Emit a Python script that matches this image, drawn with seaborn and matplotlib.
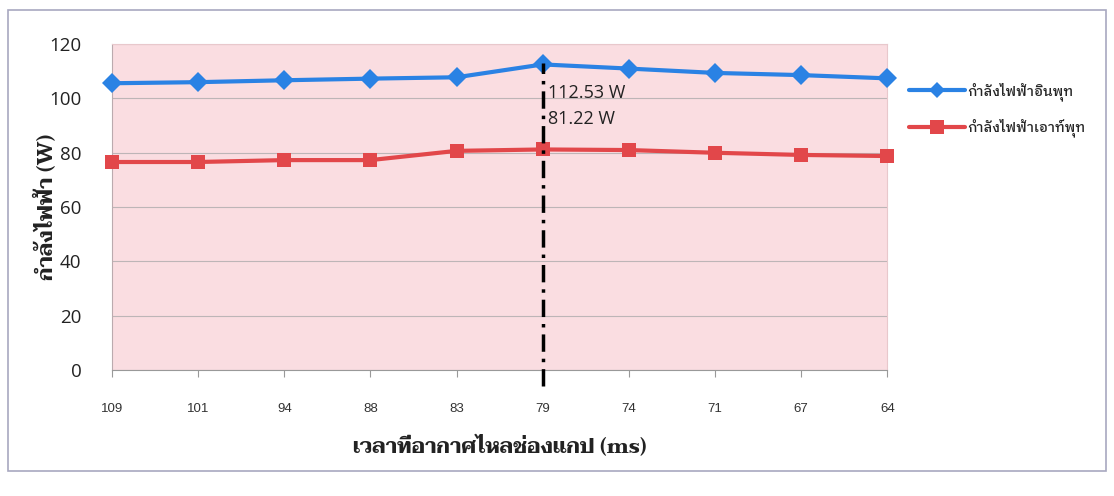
import matplotlib
matplotlib.use("Agg")
import matplotlib.pyplot as plt
from matplotlib.lines import Line2D
from matplotlib.patches import Rectangle
import seaborn as sns
import pandas as pd
import numpy as np

# gap time (ms) as category labels, read left to right
times = ["109", "101", "94", "88", "83", "79", "74", "71", "67", "64"]
p_in = [105.6, 106.0, 106.7, 107.3, 107.8, 112.53, 111.0, 109.4, 108.6, 107.4]
p_out = [76.6, 76.6, 77.3, 77.3, 80.7, 81.22, 81.0, 80.0, 79.2, 78.8]

lbl_in = "กำลังไฟฟ้าอินพุท"
lbl_out = "กำลังไฟฟ้าเอาท์พุท"
mark_idx = 5  # the 79 ms point

sns.set_theme(style="white")
plt.rcParams["font.family"] = ["Open Sans", "DejaVu Sans"]

pos = np.arange(len(times))
df = pd.DataFrame({
    "pos": np.concatenate([pos, pos]),
    "power": p_in + p_out,
    "series": [lbl_in] * len(times) + [lbl_out] * len(times),
})

blue = "#2a82e4"
red = "#e2474a"

fig = plt.figure(figsize=(11.14, 4.96), dpi=100)
ax = fig.add_axes([0.1005, 0.254, 0.696, 0.657])
ax.set_facecolor("#fadde1")

sns.lineplot(data=df, x="pos", y="power", hue="series", style="series",
             palette={lbl_in: blue, lbl_out: red},
             markers={lbl_in: "D", lbl_out: "s"}, dashes=False,
             markersize=10, linewidth=3, markeredgewidth=0,
             legend=False, ax=ax)
for ln in ax.lines:
    ln.set_clip_on(False)
    ln.set_zorder(4)

ax.set_xlim(0, len(times) - 1)
ax.set_ylim(0, 120)
ax.set_yticks(np.arange(0, 121, 20))
ax.set_xticks(pos)
ax.set_xticklabels(times, fontsize=9.5, family=["Liberation Sans"], color="#333333")
ax.tick_params(axis="y", left=False, pad=16, labelsize=13.5, labelcolor="#222222")
ax.tick_params(axis="x", bottom=True, length=5, width=0.8, color="#999999",
               direction="out", pad=19)
ax.yaxis.grid(True, color="#bdb5b7", linewidth=0.8)
ax.xaxis.grid(False)
for s in ["top", "right"]:
    ax.spines[s].set_color("#e8c8cc")
    ax.spines[s].set_linewidth(0.8)
ax.spines["left"].set_color("#bbaaae")
ax.spines["bottom"].set_color("#999999")
ax.spines["left"].set_linewidth(0.8)
ax.spines["bottom"].set_linewidth(0.8)

ax.set_xlabel("เวลาที่อากาศไหลช่องแกป (ms)", family=["Taviraj", "DejaVu Sans"],
              fontsize=15, fontweight="bold", color="#222222", labelpad=14)
ax.set_ylabel("กำลังไฟฟ้า (W)", family=["Taviraj", "DejaVu Sans"],
              fontsize=15, fontweight="bold", color="#222222", labelpad=-5)

# dash-dot marker line at the peak
ax.plot([mark_idx, mark_idx], [-6, p_in[mark_idx] + 0.5], color="black",
        linewidth=2.5, linestyle=(0, (5, 2, 1, 2)), clip_on=False, zorder=5)
ax.annotate(f"{p_in[mark_idx]:.2f} W", xy=(mark_idx, 102), xytext=(4, 0),
            textcoords="offset points", va="center", ha="left", fontsize=13,
            color="#222222")
ax.annotate(f"{p_out[mark_idx]:.2f} W", xy=(mark_idx, 92.3), xytext=(4, 0),
            textcoords="offset points", va="center", ha="left", fontsize=13,
            color="#222222")

handles = [
    Line2D([], [], color=blue, marker="D", markersize=8, linewidth=3, markeredgewidth=0),
    Line2D([], [], color=red, marker="s", markersize=10, linewidth=3, markeredgewidth=0),
]
leg = fig.legend(handles, [lbl_in, lbl_out], loc="upper left",
                 bbox_to_anchor=(0.805, 0.86), frameon=False, handlelength=4.0,
                 handletextpad=0.2, labelspacing=1.3,
                 prop={"family": ["IBM Plex Sans Thai Looped", "Sarabun", "DejaVu Sans"],
                       "size": 10, "weight": "medium"})

# outer chart border
fig.patches.append(Rectangle((0.007, 0.05), 0.986, 0.93, transform=fig.transFigure,
                             fill=False, edgecolor="#a8a8c0", linewidth=1.2))

fig.savefig("out.png", dpi=100)
